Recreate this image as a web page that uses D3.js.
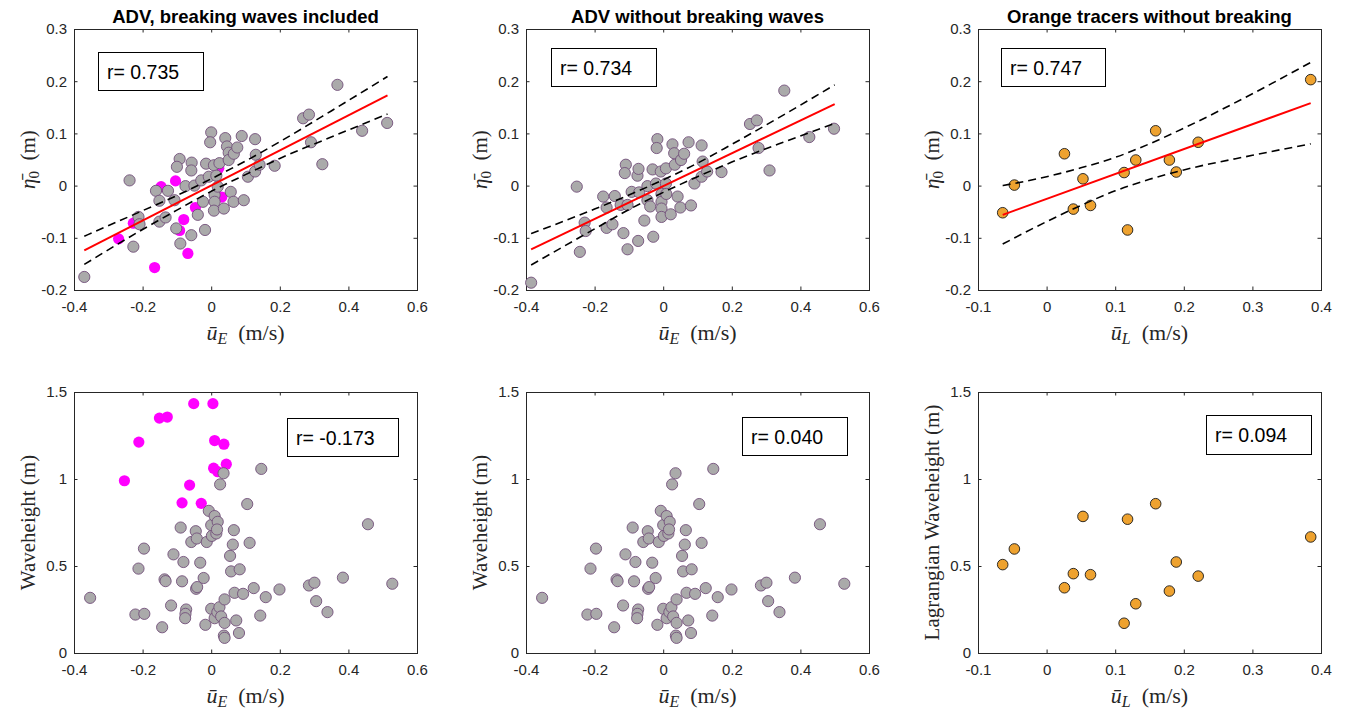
<!DOCTYPE html>
<html>
<head>
<meta charset="utf-8">
<script src="https://cdn.jsdelivr.net/npm/d3@7"></script>
<style>
  body { margin: 0; background: #fff; }
  svg { display: block; font-family: "Liberation Sans", Arial, sans-serif; }
</style>
</head>
<body>
<svg id="fig" width="1345" height="709"></svg>
<script>
// ---- data: [u, eta] / [u, waveheight] ----
const advAllGray = [
  [-0.370,-0.175],[-0.238,0.010],[-0.227,-0.117],[-0.212,-0.060],[-0.209,-0.074],[-0.161,-0.010],
  [-0.151,-0.029],[-0.151,-0.069],[-0.133,-0.061],[-0.126,-0.010],[-0.102,-0.082],[-0.090,-0.111],
  [-0.107,-0.028],[-0.092,0.051],[-0.100,0.036],[-0.057,0.044],[-0.058,0.029],[-0.075,-0.001],
  [-0.058,-0.095],[-0.049,0.000],[-0.039,-0.056],[-0.029,0.010],[-0.024,-0.031],[-0.018,-0.085],
  [-0.015,0.042],[0.000,0.102],[-0.003,0.083],[-0.007,0.017],[0.008,0.039],[0.015,0.019],
  [0.010,-0.018],[0.010,-0.031],[0.008,-0.048],[0.024,0.043],[0.019,-0.002],[0.037,-0.044],
  [0.041,0.091],[0.046,0.075],[0.051,0.063],[0.051,0.049],[0.057,-0.012],[0.066,0.061],
  [0.065,-0.031],[0.076,0.073],[0.089,0.095],[0.095,-0.028],[0.107,0.017],[0.128,0.089],
  [0.130,0.059],[0.128,0.027],[0.141,0.040],[0.185,0.038],[0.268,0.129],[0.285,0.136],
  [0.291,0.083],[0.324,0.041],[0.368,0.193],[0.440,0.105],[0.513,0.120]
];
const advBreaking = [
  [-0.270,-0.102],[-0.227,-0.072],[-0.165,-0.157],[-0.146,-0.002],[-0.104,0.009],[-0.092,-0.086],
  [-0.080,-0.065],[-0.068,-0.130],[-0.046,-0.042],[0.022,0.033],[0.031,-0.022]
];
const advNoBreak = [
  [-0.385,-0.186],[-0.252,-0.002],[-0.243,-0.127],[-0.229,-0.071],[-0.226,-0.087],[-0.175,-0.021],
  [-0.165,-0.042],[-0.165,-0.081],[-0.148,-0.074],[-0.141,-0.020],[-0.124,-0.037],[-0.116,-0.091],
  [-0.109,0.040],[-0.112,0.024],[-0.104,-0.122],[-0.104,-0.037],[-0.092,-0.012],[-0.075,0.019],
  [-0.072,0.032],[-0.073,-0.106],[-0.070,-0.013],[-0.055,-0.067],[-0.046,-0.001],[-0.046,-0.028],
  [-0.038,-0.040],[-0.031,0.031],[-0.029,-0.098],[-0.021,0.004],[-0.017,0.089],[-0.019,0.072],
  [-0.007,0.027],[-0.005,-0.016],[-0.005,-0.031],[-0.005,-0.044],[-0.005,-0.060],[0.008,0.033],
  [0.008,0.004],[0.009,-0.016],[0.022,-0.055],[0.027,0.079],[0.032,0.062],[0.034,0.040],
  [0.042,-0.021],[0.050,-0.042],[0.052,0.049],[0.061,0.061],[0.074,0.083],[0.081,-0.038],
  [0.091,0.004],[0.112,0.077],[0.115,0.046],[0.112,0.017],[0.128,0.027],[0.170,0.026],
  [0.253,0.118],[0.273,0.125],[0.278,0.072],[0.310,0.029],[0.353,0.182],[0.426,0.093],[0.498,0.109]
];
const tracerEta = [
  [-0.064,-0.052],[-0.047,0.001],[0.026,0.061],[0.039,-0.045],[0.053,0.013],[0.064,-0.038],
  [0.113,0.025],[0.118,-0.085],[0.130,0.049],[0.159,0.105],[0.179,0.049],[0.189,0.026],
  [0.221,0.083],[0.385,0.203]
];
const waveGray = [
  [-0.353,0.317],[-0.221,0.221],[-0.195,0.225],[-0.196,0.600],[-0.212,0.485],[-0.136,0.423],
  [-0.133,0.413],[-0.117,0.273],[-0.143,0.148],[-0.110,0.567],[-0.089,0.721],[-0.085,0.412],
  [-0.081,0.523],[-0.073,0.250],[-0.075,0.225],[-0.076,0.200],[-0.058,0.638],[-0.045,0.700],
  [-0.042,0.658],[-0.044,0.369],[-0.041,0.379],[-0.032,0.519],[-0.022,0.431],[-0.017,0.162],
  [-0.013,0.638],[-0.007,0.817],[0.000,0.735],[0.002,0.673],[0.000,0.254],[0.010,0.787],
  [0.019,0.754],[0.015,0.687],[0.017,0.710],[0.010,0.200],[0.018,0.235],[0.024,0.263],
  [0.026,0.969],[0.036,1.033],[0.039,0.308],[0.029,0.210],[0.039,0.173],[0.037,0.100],
  [0.039,0.087],[0.055,0.558],[0.058,0.469],[0.063,0.623],[0.066,0.706],[0.068,0.346],
  [0.073,0.187],[0.083,0.481],[0.081,0.115],[0.093,0.340],[0.105,0.856],[0.112,0.633],
  [0.124,0.373],[0.143,0.215],[0.146,1.058],[0.159,0.321],[0.199,0.365],[0.285,0.388],
  [0.301,0.404],[0.306,0.298],[0.339,0.235],[0.384,0.433],[0.457,0.740],[0.528,0.398]
];
const waveBreaking = [
  [-0.253,0.990],[-0.211,1.212],[-0.151,1.350],[-0.128,1.356],[-0.085,0.863],[-0.063,0.965],
  [-0.051,1.433],[-0.029,0.860],[0.005,1.433],[0.010,1.221],[0.037,1.200],[0.007,1.062],
  [0.044,1.085],[0.019,1.042]
];
const tracerWave = [
  [-0.064,0.508],[-0.047,0.598],[0.026,0.375],[0.039,0.456],[0.053,0.785],[0.064,0.450],
  [0.113,0.171],[0.118,0.769],[0.130,0.283],[0.159,0.858],[0.179,0.356],[0.189,0.523],
  [0.221,0.442],[0.385,0.667]
];

// regression line and 95% bounds, sampled along u
const fitAllX   = [-0.37, -0.2, -0.1, 0, 0.1, 0.2, 0.35, 0.514];
const fitAllMid = [-0.124, -0.066, -0.033, 0.001, 0.034, 0.068, 0.118, 0.173];
const fitAllUp  = [-0.097, -0.048, -0.019, 0.013, 0.047, 0.084, 0.143, 0.209];
const fitAllLo  = [-0.151, -0.084, -0.047, -0.011, 0.021, 0.052, 0.093, 0.137];

const fitNbX   = [-0.385, -0.2, -0.1, 0, 0.1, 0.2, 0.35, 0.5];
const fitNbMid = [-0.122, -0.064, -0.032, -0.001, 0.030, 0.062, 0.108, 0.156];
const fitNbUp  = [-0.092, -0.045, -0.018, 0.011, 0.043, 0.079, 0.135, 0.193];
const fitNbLo  = [-0.152, -0.083, -0.046, -0.013, 0.017, 0.045, 0.083, 0.119];

const fitTrX   = [-0.064, 0, 0.05, 0.1, 0.15, 0.2, 0.3, 0.385];
const fitTrMid = [-0.056, -0.026, -0.002, 0.022, 0.046, 0.070, 0.117, 0.158];
const fitTrUp  = [0.000, 0.017, 0.034, 0.054, 0.080, 0.110, 0.176, 0.236];
const fitTrLo  = [-0.112, -0.069, -0.038, -0.010, 0.012, 0.030, 0.058, 0.080];

const ticksUE  = [-0.4, -0.2, 0, 0.2, 0.4, 0.6];
const ticksUL  = [-0.1, 0, 0.1, 0.2, 0.3, 0.4];
const ticksEta = [-0.2, -0.1, 0, 0.1, 0.2, 0.3];
const ticksWave = [0, 0.5, 1, 1.5];

const titles = ["ADV, breaking waves included", "ADV without breaking waves", "Orange tracers without breaking"];
const rLabels = ["r= 0.735", "r= 0.734", "r= 0.747", "r= -0.173", "r= 0.040", "r= 0.094"];

// ---- styles ----
const styles = {
  gray:    { fill: "#aaaaaa", stroke: "#73507a", r: 5.6 },
  magenta: { fill: "#ff00ff", stroke: "none", r: 5.6 },
  orange:  { fill: "#eea22f", stroke: "#1a1a1a", r: 5.3 }
};

const W = 343, H = 261;
const lefts = [74, 526, 978];
const tops = [29, 392];

const zip = (xs, ys) => xs.map((x, i) => [x, ys[i]]);

const panels = [
  { col: 0, row: 0, xd: [-0.4, 0.6], xt: ticksUE, yd: [-0.2, 0.3], yt: ticksEta, xl: "E", yl: "eta",
    series: [[advBreaking, "magenta"], [advAllGray, "gray"]],
    fit: [fitAllX, fitAllMid, fitAllUp, fitAllLo], title: titles[0], r: rLabels[0], box: [24, 23, 105, 38] },
  { col: 1, row: 0, xd: [-0.4, 0.6], xt: ticksUE, yd: [-0.2, 0.3], yt: ticksEta, xl: "E", yl: "eta",
    series: [[advNoBreak, "gray"]],
    fit: [fitNbX, fitNbMid, fitNbUp, fitNbLo], title: titles[1], r: rLabels[1], box: [25, 19, 105, 38] },
  { col: 2, row: 0, xd: [-0.1, 0.4], xt: ticksUL, yd: [-0.2, 0.3], yt: ticksEta, xl: "L", yl: "eta",
    series: [[tracerEta, "orange"]],
    fit: [fitTrX, fitTrMid, fitTrUp, fitTrLo], title: titles[2], r: rLabels[2], box: [23, 19, 104, 38] },
  { col: 0, row: 1, xd: [-0.4, 0.6], xt: ticksUE, yd: [0, 1.5], yt: ticksWave, xl: "E", yl: "Waveheight (m)",
    series: [[waveBreaking, "magenta"], [waveGray, "gray"]], r: rLabels[3], box: [213, 26, 111, 38] },
  { col: 1, row: 1, xd: [-0.4, 0.6], xt: ticksUE, yd: [0, 1.5], yt: ticksWave, xl: "E", yl: "Waveheight (m)",
    series: [[waveGray, "gray"]], r: rLabels[4], box: [216, 25, 105, 38] },
  { col: 2, row: 1, xd: [-0.1, 0.4], xt: ticksUL, yd: [0, 1.5], yt: ticksWave, xl: "L", yl: "Lagrangian Waveheight (m)",
    series: [[tracerWave, "orange"]], r: rLabels[5], box: [228, 23, 105, 39] }
];

const svg = d3.select("#fig");
const fmt = (v) => String(+v.toFixed(2));
const axisColor = "#262626";
const serif = "'Liberation Serif', 'Times New Roman', serif";

panels.forEach((p) => {
  const x0 = lefts[p.col], y0 = tops[p.row];
  const g = svg.append("g").attr("transform", `translate(${x0},${y0})`);
  const x = d3.scaleLinear().domain(p.xd).range([0, W]);
  const y = d3.scaleLinear().domain(p.yd).range([H, 0]);

  // ticks on all four sides, pointing inward
  const styleAxis = (sel) => {
    sel.select(".domain").remove();
    sel.selectAll("line").attr("stroke", axisColor);
    sel.selectAll("text").attr("fill", axisColor).attr("font-size", 15);
  };
  g.append("g").attr("transform", `translate(0,${H})`)
    .call(d3.axisBottom(x).tickValues(p.xt).tickFormat(fmt).tickSizeInner(-3.5).tickSizeOuter(0).tickPadding(11))
    .call(styleAxis);
  g.append("g")
    .call(d3.axisTop(x).tickValues(p.xt).tickFormat("").tickSizeInner(-3.5).tickSizeOuter(0))
    .call(styleAxis);
  g.append("g")
    .call(d3.axisLeft(y).tickValues(p.yt).tickFormat(fmt).tickSizeInner(-3.5).tickSizeOuter(0).tickPadding(7))
    .call(styleAxis);
  g.append("g").attr("transform", `translate(${W},0)`)
    .call(d3.axisRight(y).tickValues(p.yt).tickFormat("").tickSizeInner(-3.5).tickSizeOuter(0))
    .call(styleAxis);
  g.selectAll("text").attr("font-family", "'Liberation Sans', Arial, sans-serif");

  // frame
  g.append("rect").attr("x", 0.5).attr("y", 0.5).attr("width", W).attr("height", H)
    .attr("fill", "none").attr("stroke", axisColor).attr("stroke-width", 1);

  // points
  p.series.forEach(([data, key]) => {
    const s = styles[key];
    g.append("g").selectAll("circle").data(data).join("circle")
      .attr("cx", (d) => x(d[0])).attr("cy", (d) => y(d[1])).attr("r", s.r)
      .attr("fill", s.fill).attr("stroke", s.stroke).attr("stroke-width", 0.9);
  });

  // fit line and confidence bounds
  if (p.fit) {
    const [fx, fm, fu, fl] = p.fit;
    const line = d3.line().x((d) => x(d[0])).y((d) => y(d[1]));
    const curved = d3.line().x((d) => x(d[0])).y((d) => y(d[1])).curve(d3.curveMonotoneX);
    [fu, fl].forEach((ys) => {
      g.append("path").attr("d", curved(zip(fx, ys)))
        .attr("fill", "none").attr("stroke", "#000").attr("stroke-width", 1.6)
        .attr("stroke-dasharray", "8,5");
    });
    g.append("path").attr("d", line([zip(fx, fm)[0], zip(fx, fm)[fx.length - 1]]))
      .attr("fill", "none").attr("stroke", "#ff0000").attr("stroke-width", 2);
  }

  // r box
  const [bx, by, bw, bh] = p.box;
  g.append("rect").attr("x", bx + 0.5).attr("y", by + 0.5).attr("width", bw).attr("height", bh)
    .attr("fill", "#fff").attr("stroke", "#000").attr("stroke-width", 1);
  g.append("text").attr("x", bx + 9).attr("y", by + 26.5)
    .attr("font-size", 19.5).attr("fill", "#000").text(p.r);

  // title
  if (p.title) {
    g.append("text").attr("x", W / 2).attr("y", -6).attr("text-anchor", "middle")
      .attr("font-size", 18.5).attr("font-weight", "bold").attr("fill", "#000").text(p.title);
  }

  // x label: u-bar with subscript
  const xt = g.append("text").attr("x", W / 2).attr("y", H + 50).attr("text-anchor", "middle")
    .attr("font-family", serif).attr("font-size", 22).attr("fill", axisColor);
  xt.append("tspan").attr("font-style", "italic").text("\u016b");
  xt.append("tspan").attr("font-style", "italic").attr("font-size", 16).attr("dy", 4).text(p.xl);
  xt.append("tspan").attr("dy", -4).text("\u2002(m/s)");

  // y label
  const yt = g.append("text")
    .attr("transform", `translate(-39,${H / 2}) rotate(-90)`).attr("text-anchor", "middle")
    .attr("font-family", serif).attr("font-size", 21).attr("fill", axisColor);
  if (p.yl === "eta") {
    yt.append("tspan").attr("font-style", "italic").text("\u03b7\u0304");
    yt.append("tspan").attr("font-size", 15).attr("dy", 4).text("0");
    yt.append("tspan").attr("dy", -4).text("\u2002(m)");
  } else {
    yt.text(p.yl);
  }
});
</script>
</body>
</html>
